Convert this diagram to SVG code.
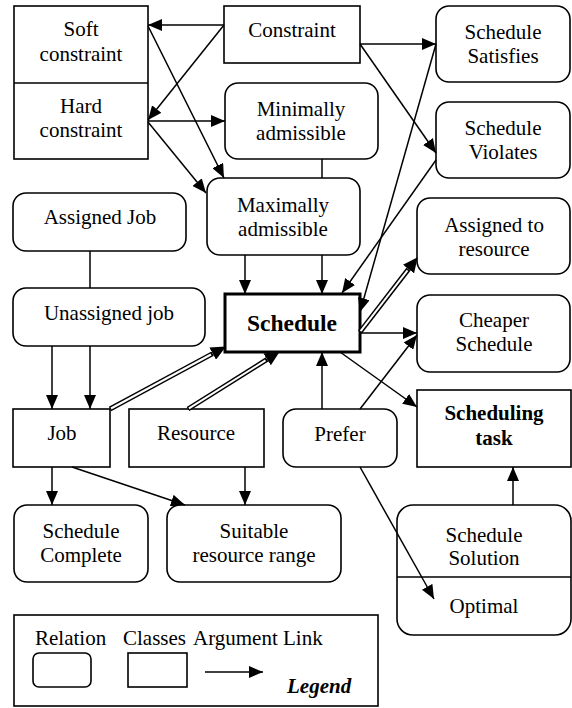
<svg xmlns="http://www.w3.org/2000/svg" width="572" height="708" viewBox="0 0 572 708">
<style>
.n{fill:#fff;stroke:#000;stroke-width:1.6}
.t{font-family:'Liberation Serif',serif;font-size:21px;fill:#000;text-anchor:middle}
.b{font-weight:bold}
.c{fill:none;stroke:#000;stroke-width:1.5}
.a{marker-end:url(#ah)}
.dO{fill:none;stroke:#000;stroke-width:5;marker-end:url(#ab)}
.dI{fill:none;stroke:#fff;stroke-width:2}
</style>
<defs>
<marker id="ah" markerUnits="userSpaceOnUse" markerWidth="14" markerHeight="12" refX="14" refY="6" orient="auto">
<path d="M0,0 L14,6 L0,12 z" fill="#000"/>
</marker>
<marker id="ab" markerUnits="userSpaceOnUse" markerWidth="15" markerHeight="14" refX="0" refY="7" orient="auto">
<path d="M0,0 L15,7 L0,14 z" fill="#000"/>
</marker>
</defs>
<rect width="572" height="708" fill="#fff"/>

<g id="soft-hard-constraint">
<rect class="n" x="14" y="6" width="134" height="153"/>
<line x1="14" y1="83" x2="148" y2="83" stroke="#000" stroke-width="1.6"/>
<text class="t" x="81" y="36">Soft</text>
<text class="t" x="81" y="61">constraint</text>
<text class="t" x="81" y="113">Hard</text>
<text class="t" x="81" y="137">constraint</text>
</g>
<g id="constraint">
<rect class="n" x="224" y="6" width="136" height="57"/>
<text class="t" x="292" y="37">Constraint</text>
</g>
<g id="schedule-satisfies">
<rect class="n" x="436" y="6" width="134" height="76" rx="13"/>
<text class="t" x="503" y="39">Schedule</text>
<text class="t" x="503" y="63">Satisfies</text>
</g>
<g id="schedule-violates">
<rect class="n" x="436" y="102" width="134" height="76" rx="13"/>
<text class="t" x="503" y="135">Schedule</text>
<text class="t" x="503" y="159">Violates</text>
</g>
<g id="minimally-admissible">
<rect class="n" x="225" y="83" width="153" height="76" rx="13"/>
<text class="t" x="301" y="116">Minimally</text>
<text class="t" x="301" y="140">admissible</text>
</g>
<g id="maximally-admissible">
<rect class="n" x="207" y="178" width="153" height="77" rx="13"/>
<text class="t" x="283" y="212">Maximally</text>
<text class="t" x="283" y="236">admissible</text>
</g>
<g id="assigned-job">
<rect class="n" x="13" y="193" width="173" height="58" rx="13"/>
<text class="t" x="100" y="224">Assigned Job</text>
</g>
<g id="unassigned-job">
<rect class="n" x="13" y="288" width="192" height="58" rx="13"/>
<text class="t" x="109" y="320">Unassigned job</text>
</g>
<g id="schedule">
<rect x="225" y="294" width="135" height="58" fill="#fff" stroke="#000" stroke-width="3"/>
<text class="t b" x="292" y="331" style="font-size:23.5px">Schedule</text>
</g>
<g id="assigned-to-resource">
<rect class="n" x="417" y="198" width="153" height="76" rx="13"/>
<text class="t" x="494" y="232">Assigned to</text>
<text class="t" x="494" y="256">resource</text>
</g>
<g id="cheaper-schedule">
<rect class="n" x="417" y="295" width="153" height="77" rx="13"/>
<text class="t" x="494" y="327">Cheaper</text>
<text class="t" x="494" y="351">Schedule</text>
</g>
<g id="job">
<rect class="n" x="13" y="409" width="97" height="58"/>
<text class="t" x="62" y="440">Job</text>
</g>
<g id="resource">
<rect class="n" x="129" y="409" width="135" height="58"/>
<text class="t" x="196" y="440">Resource</text>
</g>
<g id="prefer">
<rect class="n" x="283" y="409" width="114" height="58" rx="13"/>
<text class="t" x="340" y="441">Prefer</text>
</g>
<g id="scheduling-task">
<rect class="n" x="417" y="390" width="154" height="77"/>
<text class="t b" x="494" y="420">Scheduling</text>
<text class="t b" x="494" y="445">task</text>
</g>
<g id="schedule-complete">
<rect class="n" x="14" y="505" width="134" height="77" rx="13"/>
<text class="t" x="81" y="538">Schedule</text>
<text class="t" x="81" y="562">Complete</text>
</g>
<g id="suitable-resource-range">
<rect class="n" x="167" y="505" width="174" height="77" rx="13"/>
<text class="t" x="254" y="538">Suitable</text>
<text class="t" x="254" y="562">resource range</text>
</g>
<g id="schedule-solution">
<rect class="n" x="397" y="505" width="174" height="130" rx="16"/>
<line x1="397" y1="577" x2="571" y2="577" stroke="#000" stroke-width="1.6"/>
<text class="t" x="484" y="542">Schedule</text>
<text class="t" x="484" y="565">Solution</text>
<text class="t" x="484" y="613">Optimal</text>
</g>
<g id="legend">
<rect class="n" x="14" y="615" width="364" height="91"/>
<text class="t" x="35" y="645" style="text-anchor:start">Relation</text>
<text class="t" x="123" y="645" style="text-anchor:start">Classes</text>
<text class="t" x="193" y="645" style="text-anchor:start">Argument Link</text>
<rect class="n" x="33" y="653" width="58" height="34" rx="6"/>
<rect class="n" x="128" y="653" width="59" height="34"/>
<path class="c a" d="M205,672 L263,672"/>
<text class="t b" x="287" y="693" style="text-anchor:start;font-style:italic">Legend</text>
</g>

<g id="connectors">
<path class="c a" d="M224,25 L148,25"/>
<path class="c a" d="M224,25 L148,120"/>
<path class="c a" d="M148,121 L225,121"/>
<path class="c a" d="M148,122 L206,193"/>
<path class="c a" d="M148,26 L224,178"/>
<path class="c a" d="M360,44 L436,44"/>
<path class="c a" d="M360,44 L436,153"/>
<path class="c a" d="M436,44 L360,312"/>
<path class="c a" d="M436,160 L342,293"/>
<path class="c" d="M322,159 L322,178"/>
<path class="c a" d="M245,255 L245,294"/>
<path class="c a" d="M322,255 L322,294"/>
<path class="c" d="M90,251 L90,288"/>
<path class="c a" d="M52,346 L52,409"/>
<path class="c a" d="M90,346 L90,409"/>
<path class="dO" d="M110,409 L212.7,353.6"/>
<path class="dI" d="M111,408.5 L211,354.5"/>
<path class="dO" d="M188,409 L267.1,359.4"/>
<path class="dI" d="M189,408.4 L265.5,360.4"/>
<path class="dO" d="M360,332 L408.5,269.1"/>
<path class="dI" d="M360.6,331.2 L407.5,270.4"/>
<path class="c a" d="M360,333 L417,333"/>
<path class="c a" d="M360,409 L417,335"/>
<path class="c a" d="M340,352 L417,407"/>
<path class="c a" d="M322,409 L322,352"/>
<path class="c a" d="M360,467 L434,599"/>
<path class="c a" d="M513,505 L513,467"/>
<path class="c a" d="M52,467 L52,505"/>
<path class="c a" d="M72,467 L185,505"/>
<path class="c a" d="M245,467 L245,505"/>
</g>
</svg>
